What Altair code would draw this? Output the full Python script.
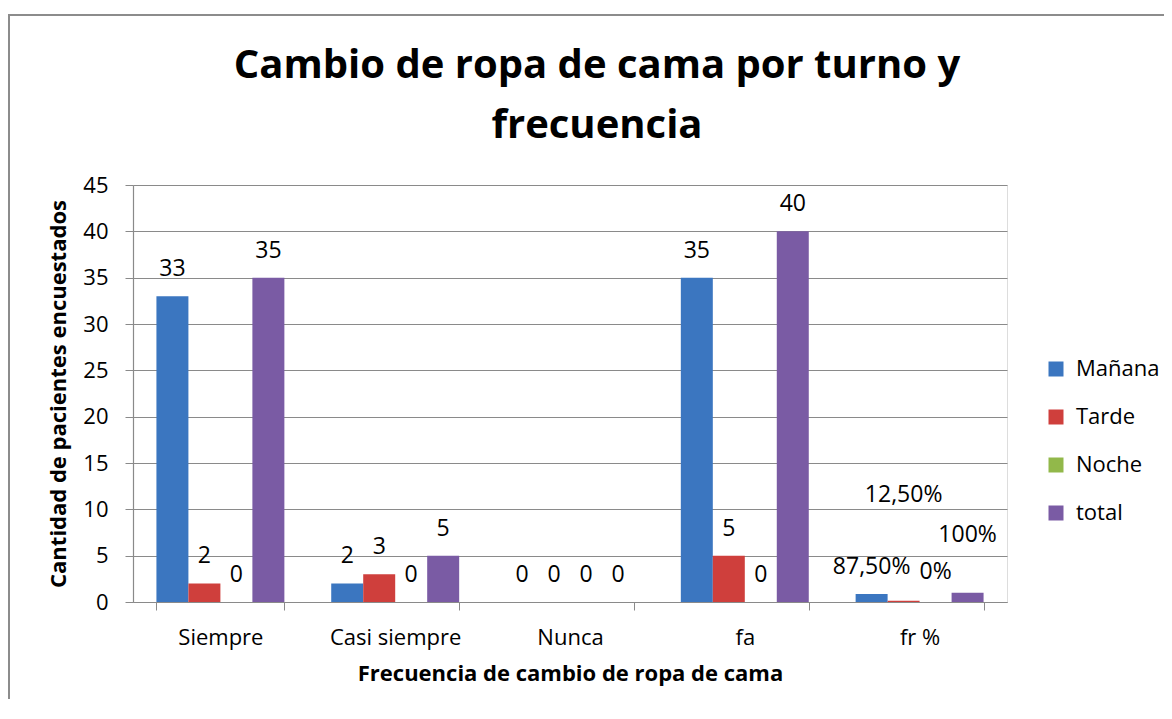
import altair as alt
import pandas as pd

categories = ["Siempre", "Casi siempre", "Nunca", "fa", "fr %"]
series = ["Mañana", "Tarde", "Noche", "total"]

manana = [33, 2, 0, 35, 0.875]
tarde = [2, 3, 0, 5, 0.125]
noche = [0, 0, 0, 0, 0]
total = [35, 5, 0, 40, 1]

manana_lbl = ["33", "2", "0", "35", "87,50%"]
tarde_lbl = ["2", "3", "0", "5", "12,50%"]
noche_lbl = ["0", "0", "0", "0", "0%"]
total_lbl = ["35", "5", "0", "40", "100%"]

# where the (manually moved) "fr %" labels sit, in axis units
fr_label_level = [3.8, 11.6, 3.2, 7.2]

title_text = "Cambio de ropa de cama por  turno y\nfrecuencia"

colors = ["#3B76C0", "#CF3F3C", "#92B84A", "#7A5BA4"]

rows = []
for s, vals, lbls in zip(series, [manana, tarde, noche, total],
                         [manana_lbl, tarde_lbl, noche_lbl, total_lbl]):
    for i, c in enumerate(categories):
        rows.append({"cat": c, "serie": s, "value": vals[i], "label": lbls[i],
                     "level": fr_label_level[series.index(s)] if c == "fr %" else vals[i]})
df = pd.DataFrame(rows)

FONT = "Open Sans"
GRID = "#8a8a8a"

x_enc = alt.X("cat:N", sort=categories,
              scale=alt.Scale(paddingInner=0.268, paddingOuter=0.134),
              axis=alt.Axis(title="Frecuencia de cambio de ropa de cama", labelAngle=0,
                            tickBand="extent", tickSize=8, tickColor=GRID, domainColor=GRID,
                            labelFont=FONT, labelFontSize=22, labelColor="#000000",
                            labelPadding=17, titleFont=FONT, titleFontSize=22,
                            titleFontWeight="bold", titleColor="#000000", titlePadding=15))
xo_enc = alt.XOffset("serie:N", sort=series, scale=alt.Scale(paddingInner=0, paddingOuter=0))
y_enc = alt.Y("value:Q", scale=alt.Scale(domain=[0, 45], nice=False),
              axis=alt.Axis(title="Cantidad de pacientes encuestados",
                            values=[0, 5, 10, 15, 20, 25, 30, 35, 40, 45],
                            gridColor=GRID, gridWidth=1.2, tickColor=GRID, tickSize=8,
                            domainColor=GRID, domainWidth=1.2, labelFont=FONT, labelFontSize=22,
                            labelColor="#000000", labelPadding=17, titleFont=FONT,
                            titleFontSize=22, titleFontWeight="bold", titleColor="#000000",
                            titlePadding=12))

base = alt.Chart(df)

bars = base.mark_bar(strokeWidth=0).encode(
    x=x_enc, xOffset=xo_enc, y=y_enc,
    color=alt.Color("serie:N", sort=series,
                    scale=alt.Scale(domain=series, range=colors),
                    legend=alt.Legend(title=None, orient="none", legendX=912, legendY=173,
                                      symbolType="square", symbolSize=225,
                                      symbolStrokeWidth=0, labelFont=FONT,
                                      labelFontSize=22, labelColor="#000000",
                                      rowPadding=26, labelOffset=9)),
)

labels_main = base.transform_filter(alt.datum.cat != "fr %").mark_text(
    font=FONT, fontSize=23, color="#000000", baseline="middle", dy=-27
).encode(x=alt.X("cat:N", sort=categories), xOffset=alt.XOffset("serie:N", sort=series),
         y=alt.Y("value:Q"), text="label:N")

labels_fr = base.transform_filter(alt.datum.cat == "fr %").mark_text(
    font=FONT, fontSize=23, color="#000000", baseline="middle"
).encode(x=alt.X("cat:N", sort=categories), xOffset=alt.XOffset("serie:N", sort=series),
         y=alt.Y("level:Q"), text="label:N")

title = alt.Chart(alt.Data(values=[{"t": title_text}])).mark_text(
    font=FONT, fontSize=40, fontWeight="bold", color="#000000", align="center",
    baseline="alphabetic", lineBreak="\n", lineHeight=60
).encode(text="t:N", x=alt.value(464), y=alt.value(-107))

frame = alt.Chart(alt.Data(values=[{}])).mark_rect(
    fill="transparent", stroke="#8c8c8c", strokeWidth=2
).encode(x=alt.value(-124), x2=alt.value(1100), y=alt.value(-170), y2=alt.value(800))

chart = alt.layer(frame, bars, labels_main, labels_fr, title).properties(
    width=874, height=417,
    autosize=alt.AutoSizeParams(type="none"),
    padding={"left": 125, "top": 177, "right": 157, "bottom": 97},
).configure_view(strokeWidth=0).configure(background="#ffffff")

chart.save("out.html", embed_options={"renderer": "svg", "actions": False})
